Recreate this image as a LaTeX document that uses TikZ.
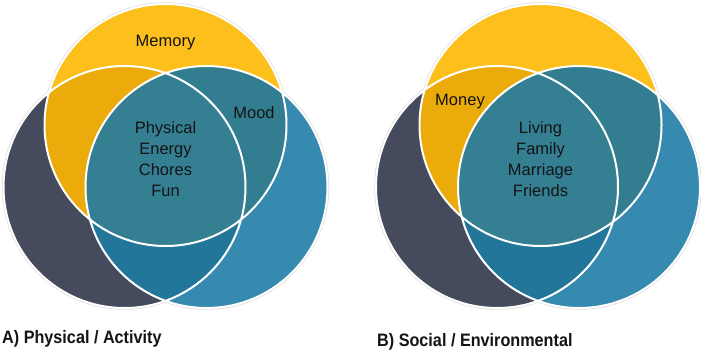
\documentclass[tikz,border=0pt]{standalone}
\usepackage{fontspec}
\setmainfont{Liberation Sans}
\newfontfamily\capfont[FakeStretch=0.9]{Liberation Sans}
\usepackage{tikz}

\definecolor{gold}{HTML}{FDBF1B}
\definecolor{goldDk}{HTML}{EBAB0B}
\definecolor{slate}{HTML}{454A5C}
\definecolor{blueR}{HTML}{3689AF}
\definecolor{blueDk}{HTML}{22769A}
\definecolor{tealM}{HTML}{327D8F}
\definecolor{tealC}{HTML}{347F92}
\definecolor{ink}{HTML}{141414}

\begin{document}
\begin{tikzpicture}[x=1pt,y=-1pt,
    ring/.style={draw=white,line width=2pt},
    halo/.style={draw=black!12,line width=3.5pt},
    lbl/.style={font=\fontsize{16.5}{20.8}\selectfont,text=ink,inner sep=0pt},
    title/.style={font=\capfont\bfseries\fontsize{18}{22}\selectfont,text=ink,
      inner sep=0pt,anchor=base west}]
  \useasboundingbox[fill=white] (0,0) rectangle (701,350);

  % A) left diagram
  \coordinate (y1) at (165.5,125);
  \coordinate (d1) at (124.5,187);
  \coordinate (b1) at (206.5,187);
  \draw[halo] (d1) circle[radius=121pt] (b1) circle[radius=121pt]
              (y1) circle[radius=121pt];
  \fill[slate] (d1) circle[radius=121pt];
  \fill[blueR] (b1) circle[radius=121pt];
  \begin{scope}
    \clip (d1) circle[radius=121pt];
    \fill[blueDk] (b1) circle[radius=121pt];
  \end{scope}
  \fill[gold] (y1) circle[radius=121pt];
  \begin{scope}
    \clip (y1) circle[radius=121pt];
    \fill[goldDk] (d1) circle[radius=121pt];
    \fill[tealM] (b1) circle[radius=121pt];
    \clip (d1) circle[radius=121pt];
    \fill[tealC] (b1) circle[radius=121pt];
  \end{scope}
  \draw[ring] (d1) circle[radius=121pt] (b1) circle[radius=121pt]
              (y1) circle[radius=121pt];

  \node[lbl,anchor=base] (mem) at (165.5,47) {Memory};
  \node[lbl,anchor=base] (mood) at (254,119) {Mood};
  \node[lbl,align=center] (core1) at (165.5,159)
    {Physical\\Energy\\Chores\\Fun};

  % B) right diagram
  \coordinate (y2) at (540.5,125);
  \coordinate (d2) at (497,187);
  \coordinate (b2) at (579,187);
  \draw[halo] (d2) circle[radius=121pt] (b2) circle[radius=121pt]
              (y2) circle[radius=121pt];
  \fill[slate] (d2) circle[radius=121pt];
  \fill[blueR] (b2) circle[radius=121pt];
  \begin{scope}
    \clip (d2) circle[radius=121pt];
    \fill[blueDk] (b2) circle[radius=121pt];
  \end{scope}
  \fill[gold] (y2) circle[radius=121pt];
  \begin{scope}
    \clip (y2) circle[radius=121pt];
    \fill[goldDk] (d2) circle[radius=121pt];
    \fill[tealM] (b2) circle[radius=121pt];
    \clip (d2) circle[radius=121pt];
    \fill[tealC] (b2) circle[radius=121pt];
  \end{scope}
  \draw[ring] (d2) circle[radius=121pt] (b2) circle[radius=121pt]
              (y2) circle[radius=121pt];

  \node[lbl,anchor=base] (money) at (460,106) {Money};
  \node[lbl,align=center] (core2) at (540.5,159)
    {Living\\Family\\Marriage\\Friends};

  % captions
  \node[title] (capA) at (2,343) {A) Physical / Activity};
  \node[title] (capB) at (377,346) {B) Social / Environmental};
\end{tikzpicture}
\end{document}
